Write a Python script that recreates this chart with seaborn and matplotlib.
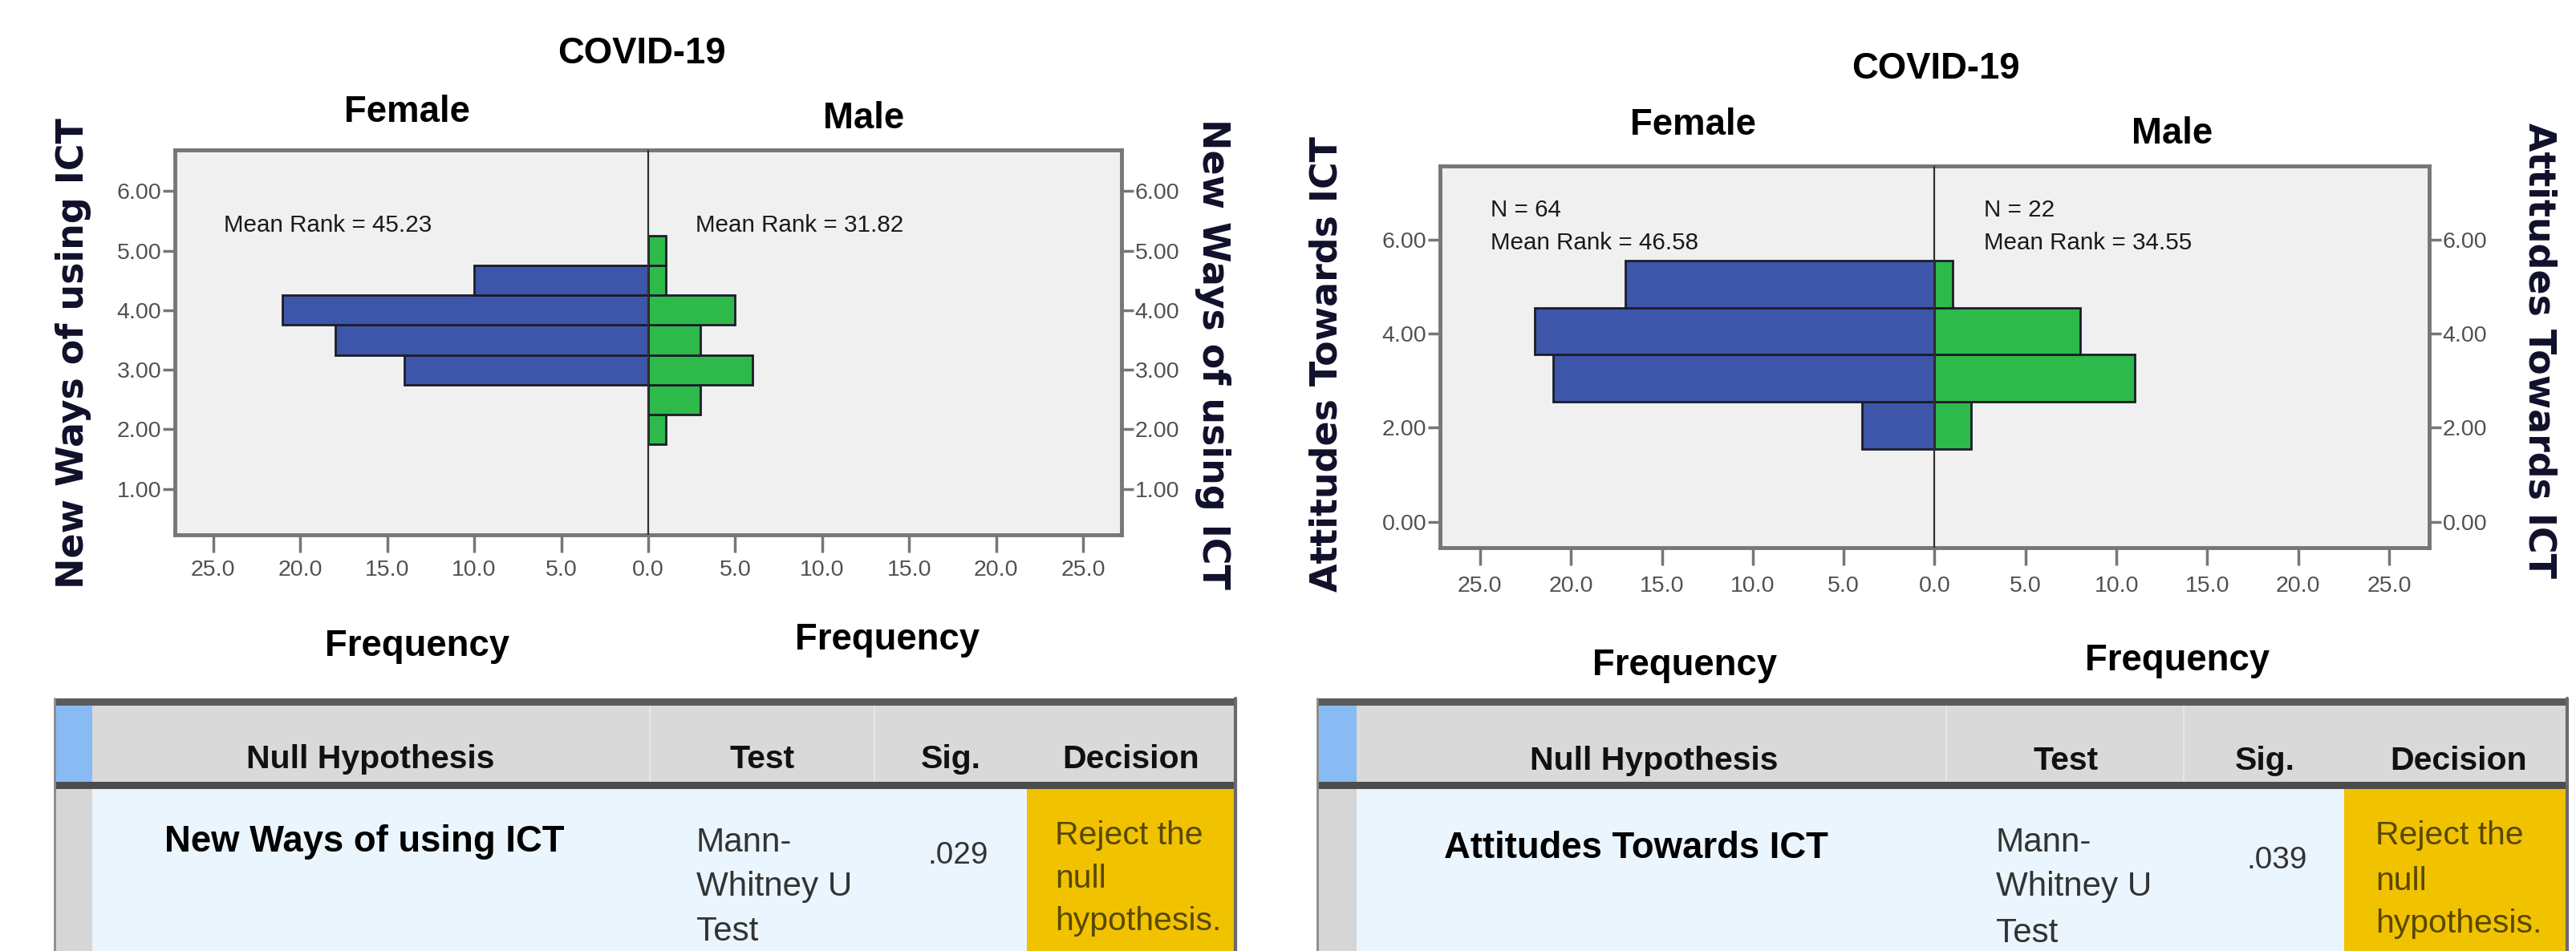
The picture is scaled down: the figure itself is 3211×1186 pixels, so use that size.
import numpy as np
import pandas as pd
import matplotlib
matplotlib.use("Agg")
import matplotlib.pyplot as plt
import seaborn as sns
from matplotlib import font_manager
from matplotlib.patches import Rectangle

# ---------------- data ----------------
title = "COVID-19"
groups = ["Female", "Male"]
axis_title = "Frequency"

nw_bins = [2.0, 2.5, 3.0, 3.5, 4.0, 4.5, 5.0]
nw_female = [0, 0, 14, 18, 21, 10, 0]
nw_male = [1, 3, 6, 3, 5, 1, 1]
nw_mean_rank = [45.23, 31.82]
nw_yticks = [1, 2, 3, 4, 5, 6]

at_bins = [2.05, 3.05, 4.05, 5.05]
at_female = [4, 21, 22, 17]
at_male = [2, 11, 8, 1]
at_n = [64, 22]
at_mean_rank = [46.58, 34.55]
at_yticks = [0, 2, 4, 6]

freq_ticks = [-25, -20, -15, -10, -5, 0, 5, 10, 15, 20, 25]

variables = ["New Ways of using ICT", "Attitudes Towards ICT"]
table_header = ["Null Hypothesis", "Test", "Sig.", "Decision"]
test_lines = ["Mann-", "Whitney U", "Test"]
sig_values = [".029", ".039"]
decision_lines = ["Reject the", "null", "hypothesis."]

# ---------------- style ----------------
sns.set_theme(style="white")
names = {f.name for f in font_manager.fontManager.ttflist}
if "Liberation Sans Narrow" in names:
    NARROW, K = "Liberation Sans Narrow", 1.0
else:
    NARROW, K = "Liberation Sans", 0.82
plt.rcParams["font.family"] = [NARROW, "DejaVu Sans"]
LABEL_FONT = ["DejaVu Sans"]

BLUE = "#3d56aa"
GREEN = "#2eb94b"
EDGE = "#1c1c2a"
BOXBG = "#f0f0f0"
SPINE = "#767676"
TICKC = "#505050"
YLABC = "#10102a"

W, H = 3212, 1186
fig = plt.figure(figsize=(W / 100, H / 100), dpi=100)
fig.patch.set_facecolor("white")

bg = fig.add_axes([0, 0, 1, 1])
bg.set_xlim(0, W)
bg.set_ylim(H, 0)
bg.axis("off")
bg.set_zorder(0)


def axrect(x0, y0, x1, y1):
    return [x0 / W, 1 - y1 / H, (x1 - x0) / W, (y1 - y0) / H]


def pyramid(rect, bins, fem, mal, ylim, yticks, notes_f, notes_m, note_y, xpad):
    ax = fig.add_axes(axrect(*rect))
    ax.set_zorder(2)
    ax.set_facecolor(BOXBG)
    df_f = pd.DataFrame({"bin": bins, "count": fem})
    df_f = df_f[df_f["count"] > 0].copy()
    df_f["signed"] = -df_f["count"]
    df_m = pd.DataFrame({"bin": bins, "count": mal})
    df_m = df_m[df_m["count"] > 0].copy()
    for df, col, c in [(df_f, "signed", BLUE), (df_m, "count", GREEN)]:
        sns.barplot(data=df, x=col, y="bin", orient="y", native_scale=True,
                    width=1.0, color=c, edgecolor=EDGE, linewidth=2.0,
                    saturation=1, errorbar=None, ax=ax, zorder=3)
    ax.axvline(0, color="#303030", lw=1.6, zorder=4)
    ax.set_xlim(-27.2, 27.2)
    ax.set_ylim(*ylim)
    ax.set_xlabel("")
    ax.set_ylabel("")
    ax.set_xticks(freq_ticks)
    ax.set_xticklabels([f"{abs(v):.1f}" for v in freq_ticks])
    ax.set_yticks(yticks)
    ax.set_yticklabels([f"{v:.2f}" for v in yticks])
    for s in ax.spines.values():
        s.set_visible(True)
        s.set_color(SPINE)
        s.set_linewidth(3.5)
    ax.tick_params(axis="y", left=True, right=True, labelleft=True,
                   labelright=True, direction="out", length=11, width=2.5,
                   color=SPINE, labelcolor=TICKC, labelsize=25 * K, pad=1)
    ax.tick_params(axis="x", bottom=True, top=False, direction="out",
                   length=16, width=2.5, color=SPINE, labelcolor=TICKC,
                   labelsize=25 * K, pad=xpad)
    ax.grid(False)
    for i, t in enumerate(notes_f):
        ax.text(-24.4, note_y[i], t, fontsize=26 * K, color="#1a1a1a",
                ha="left", va="center", zorder=5)
    for i, t in enumerate(notes_m):
        ax.text(2.7, note_y[i], t, fontsize=26 * K, color="#1a1a1a",
                ha="left", va="center", zorder=5)
    return ax


# ---------- left pyramid ----------
pyramid((218, 187, 1398, 667), nw_bins, nw_female, nw_male, (0.23, 6.69),
        nw_yticks, [f"Mean Rank = {nw_mean_rank[0]:.2f}"],
        [f"Mean Rank = {nw_mean_rank[1]:.2f}"], [5.42], 6)

# ---------- right pyramid ----------
pyramid((1795, 207, 3028, 683), at_bins, at_female, at_male, (-0.55, 7.56),
        at_yticks,
        [f"N = {at_n[0]}", f"Mean Rank = {at_mean_rank[0]:.2f}"],
        [f"N = {at_n[1]}", f"Mean Rank = {at_mean_rank[1]:.2f}"],
        [6.62, 5.93], 9)

# ---------- chart titles ----------
TB = dict(fontsize=40 * K, fontweight="bold", color="black", ha="center",
          va="baseline")
# left chart
bg.text(800, 79, title, **TB)
bg.text(507, 152, groups[0], **TB)
bg.text(1077, 160, groups[1], **TB)
bg.text(520, 818, axis_title, **TB)
bg.text(1106, 810, axis_title, **TB)
# right chart
bg.text(2413, 98, title, **TB)
bg.text(2110, 168, groups[0], **TB)
bg.text(2708, 179, groups[1], **TB)
bg.text(2100, 842, axis_title, **TB)
bg.text(2714, 836, axis_title, **TB)

YL = dict(fontsize=33, fontweight="bold", color=YLABC, ha="center",
          va="center", family=LABEL_FONT)
bg.text(92, 441, variables[0], rotation=90, **YL)
bg.text(1512, 441, variables[0], rotation=270, **YL)
bg.text(1654, 454, variables[1], rotation=90, **YL)
bg.text(3165, 437, variables[1], rotation=270, **YL)


# ---------- tables ----------
def table(x0, x1, strip_x1, seps, dec_x0, hx, hbase, var_i, var_x, var_base,
          test_x, test_bases, sig_x, sig_base, dec_x, dec_bases):
    bg.add_patch(Rectangle((x0, 880), x1 - x0, 95, color="#d9d9d9", lw=0))
    bg.add_patch(Rectangle((x0, 880), strip_x1 - x0, 95, color="#88bbf3", lw=0))
    bg.add_patch(Rectangle((x0, 983), x1 - x0, H - 983, color="#ebf5fd", lw=0))
    bg.add_patch(Rectangle((x0, 983), strip_x1 - x0, H - 983, color="#d6d6d6", lw=0))
    bg.add_patch(Rectangle((dec_x0, 983), x1 - dec_x0, H - 983, color="#f1c200", lw=0))
    bg.add_patch(Rectangle((x0, 871), x1 - x0, 9, color="#5a5a5a", lw=0))
    bg.add_patch(Rectangle((x0, 975), x1 - x0, 9, color="#4c4c4c", lw=0))
    for sx in seps:
        bg.plot([sx, sx], [881, 974], color="#e6e6e6", lw=1.5)
    bg.plot([x0, x0], [871, H], color="#8a8a8a", lw=2)
    bg.plot([x1, x1], [871, H], color="#6a6a6a", lw=3)
    for t, x in zip(table_header, hx):
        bg.text(x, hbase, t, fontsize=36 * K, fontweight="bold", color="#111111",
                ha="center", va="baseline")
    bg.text(var_x, var_base, variables[var_i], fontsize=40 * K, fontweight="bold",
            color="black", ha="left", va="baseline")
    for t, b in zip(test_lines, test_bases):
        bg.text(test_x, b, t, fontsize=37 * K, color="#333333", ha="left",
                va="baseline")
    bg.text(sig_x, sig_base, sig_values[var_i], fontsize=34 * K, color="#333333",
            ha="right", va="baseline")
    for t, b in zip(decision_lines, dec_bases):
        bg.text(dec_x, b, t, fontsize=36 * K, color="#584800", ha="left",
                va="baseline")


table(68, 1540, 115, [810, 1090], 1280, [462, 950, 1185, 1410], 958, 0, 205,
      1062, 868, [1062, 1117, 1173], 1232, 1077, 1315, [1053, 1107, 1160])
table(1642, 3200, 1691, [2426, 2722], 2922, [2062, 2575, 2823, 3065], 960, 1,
      1800, 1070, 2488, [1062, 1117, 1175], 2876, 1083, 2961, [1053, 1110, 1163])

fig.savefig("out.png", dpi=100, facecolor="white")
